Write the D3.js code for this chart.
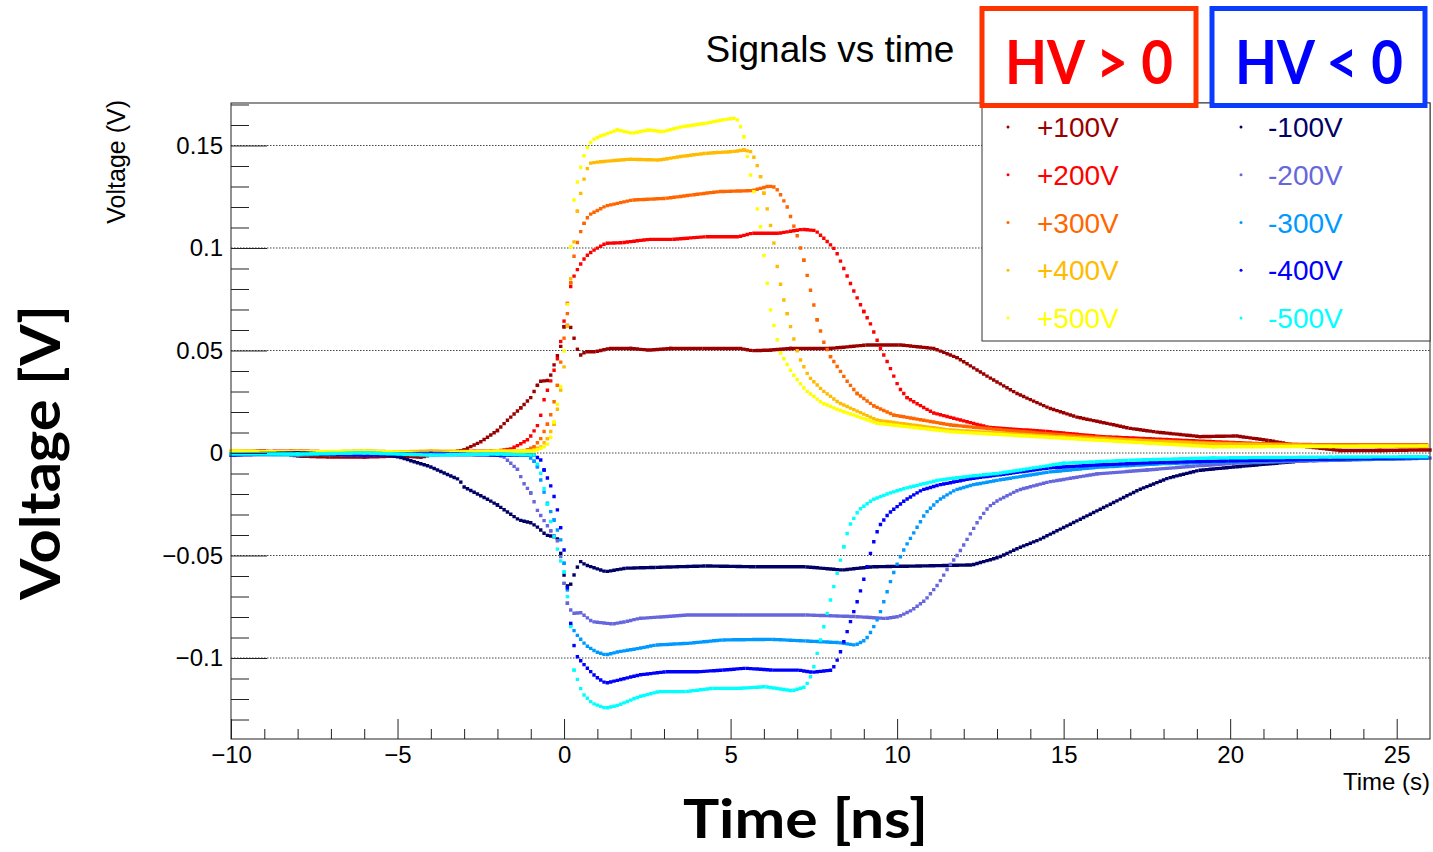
<!DOCTYPE html>
<html>
<head>
<meta charset="utf-8">
<script src="https://cdn.jsdelivr.net/npm/d3@7"></script>
<style>
    body { margin: 0; background: #fff; }
    svg { display: block; }
</style>
</head>
<body>
<div id="chart"></div>
<script>
// [time (ns), voltage (V)]
let pos100 = [[-10,0.0005],[-9,0.001],[-8.5,0.0],[-8,-0.0015],[-7,-0.002],[-6,-0.002],[-5,-0.0015],[-4.3,-0.002],[-3.8,-0.0005],[-3.3,0.0005],[-3.0,0.0015],[-2.5,0.0055],[-2.0,0.011],[-1.7,0.016],[-1.3,0.022],[-1.0,0.027],[-0.8,0.033],[-0.7,0.035],[-0.45,0.0355],[-0.3,0.043],[-0.1,0.052],[0,0.0616],[0.15,0.0625],[0.25,0.06],[0.35,0.052],[0.5,0.0478],[0.65,0.0494],[0.95,0.0494],[1.35,0.051],[2.0,0.051],[2.55,0.0502],[3.2,0.051],[4.2,0.051],[5.3,0.051],[5.65,0.0499],[6.2,0.0502],[6.8,0.051],[8.0,0.051],[9.1,0.0527],[10.1,0.0527],[11.1,0.051],[11.8,0.0465],[12.75,0.037],[13.6,0.029],[14.55,0.022],[15.4,0.0175],[16.2,0.0148],[17.0,0.012],[17.8,0.0102],[19.1,0.008],[20.2,0.0083],[21.2,0.006],[22.1,0.0034],[23.3,0.0012],[24.5,0.0012],[26,0.0015]];
let pos200 = [[-10,0.0005],[-8,0.001],[-6,0.0],[-4,0.0005],[-2,0.001],[-1.6,0.002],[-1.35,0.004],[-1.05,0.007],[-0.75,0.0146],[-0.6,0.026],[-0.36,0.037],[-0.15,0.0488],[-0.05,0.06],[0.1,0.073],[0.24,0.0844],[0.45,0.091],[0.65,0.0958],[0.85,0.0985],[1.25,0.1023],[1.75,0.1026],[2.55,0.1042],[3.25,0.1042],[4.25,0.1055],[5.25,0.1055],[5.65,0.1072],[6.45,0.1072],[6.75,0.108],[7.15,0.1091],[7.55,0.1085],[7.85,0.104],[8.15,0.099],[8.4,0.09],[8.7,0.079],[9.0,0.069],[9.2,0.063],[9.5,0.051],[9.75,0.043],[10.05,0.032],[10.3,0.027],[10.6,0.024],[11.1,0.0195],[12.75,0.0125],[14.5,0.0105],[16.15,0.008],[17.5,0.007],[19.5,0.0055],[21,0.0045],[22.9,0.0034],[26,0.003]];
let pos300 = [[-10,0.001],[-8,0.0],[-6,0.001],[-4,0.0],[-2,0.0005],[-1.2,0.001],[-0.9,0.003],[-0.7,0.007],[-0.5,0.014],[-0.35,0.021],[-0.2,0.033],[-0.05,0.05],[0.1,0.068],[0.2,0.083],[0.3,0.096],[0.45,0.106],[0.6,0.112],[0.75,0.1161],[1.25,0.1205],[2.05,0.1234],[3.05,0.1242],[3.85,0.1259],[4.65,0.1275],[5.65,0.128],[6.15,0.1302],[6.35,0.1296],[6.5,0.126],[6.7,0.12],[6.85,0.113],[7.0,0.106],[7.2,0.094],[7.35,0.083],[7.6,0.065],[7.8,0.054],[8.0,0.047],[8.25,0.041],[8.5,0.035],[8.8,0.029],[9.3,0.023],[9.9,0.0185],[11.6,0.0137],[13.3,0.011],[15,0.0088],[17,0.0065],[19.5,0.0049],[22.9,0.004],[26,0.004]];
let pos400 = [[-10,0.0],[-8,0.001],[-6,0.0],[-4,0.001],[-2,0.0005],[-1.0,0.001],[-0.7,0.003],[-0.5,0.007],[-0.3,0.014],[-0.15,0.025],[0,0.042],[0.1,0.062],[0.2,0.085],[0.3,0.103],[0.4,0.118],[0.55,0.131],[0.75,0.1413],[1.05,0.142],[1.95,0.1433],[2.85,0.1429],[3.45,0.1445],[4.25,0.1462],[5.05,0.147],[5.4,0.1478],[5.6,0.147],[5.75,0.1429],[5.9,0.1348],[6.0,0.1267],[6.15,0.1153],[6.3,0.1024],[6.4,0.091],[6.55,0.078],[6.7,0.068],[6.85,0.0585],[7.05,0.047],[7.35,0.0372],[7.75,0.0307],[8.25,0.0245],[9.4,0.016],[11.6,0.0112],[15,0.0078],[19.5,0.0045],[23,0.0035],[26,0.0035]];
let pos500 = [[-10,0.001],[-8,0.0005],[-6,0.001],[-4,0.0],[-2,0.001],[-0.9,0.001],[-0.6,0.003],[-0.45,0.005],[-0.36,0.0098],[-0.3,0.0151],[-0.1,0.0323],[0.05,0.0585],[0.2,0.1006],[0.3,0.1234],[0.45,0.1366],[0.65,0.1478],[0.85,0.1527],[1.05,0.1543],[1.6,0.1576],[2.05,0.156],[2.55,0.1576],[2.95,0.1567],[3.55,0.1592],[4.25,0.1608],[4.85,0.1628],[5.15,0.1633],[5.25,0.1616],[5.4,0.1543],[5.55,0.1397],[5.75,0.1234],[5.9,0.1104],[6.05,0.0893],[6.2,0.0698],[6.35,0.0585],[6.5,0.0488],[6.85,0.039],[7.25,0.0307],[7.75,0.0244],[8.25,0.021],[9.4,0.0145],[11.6,0.0104],[15,0.0072],[19.5,0.003],[23,0.0032],[26,0.0034]];

let neg100 = [[-10,-0.0005],[-8,0.0],[-6.5,-0.001],[-5.3,-0.001],[-4.95,-0.002],[-4.05,-0.0065],[-3.15,-0.013],[-3.0,-0.0166],[-2.25,-0.023],[-2.0,-0.0254],[-1.35,-0.0327],[-1.0,-0.034],[-0.75,-0.0367],[-0.55,-0.04],[-0.3,-0.0408],[-0.15,-0.0424],[-0.05,-0.0555],[0.05,-0.0636],[0.15,-0.066],[0.25,-0.062],[0.35,-0.057],[0.5,-0.053],[0.65,-0.0546],[1.25,-0.0579],[1.85,-0.0562],[2.75,-0.0558],[4.25,-0.0551],[5.75,-0.0555],[7.25,-0.0555],[8.35,-0.0571],[9.25,-0.0555],[10.75,-0.0551],[12.25,-0.0546],[13.05,-0.0509],[13.65,-0.0463],[14.25,-0.0424],[15.45,-0.0327],[16.35,-0.0254],[17.25,-0.018],[18.15,-0.0122],[19.05,-0.0085],[20.2,-0.0067],[22.35,-0.0036],[24,-0.003],[26,-0.0025]];
let neg200 = [[-10,-0.001],[-8,-0.0005],[-6,-0.001],[-4,0.0],[-2,-0.001],[-1.8,-0.002],[-1.4,-0.008],[-1.2,-0.015],[-1.0,-0.0195],[-0.8,-0.028],[-0.6,-0.033],[-0.4,-0.038],[-0.15,-0.044],[0,-0.0636],[0.1,-0.0733],[0.25,-0.0782],[0.5,-0.0779],[0.85,-0.0823],[1.45,-0.0834],[1.85,-0.0823],[2.25,-0.0807],[3.75,-0.079],[5.25,-0.079],[7.25,-0.079],[8.75,-0.0798],[9.65,-0.0807],[10.05,-0.0798],[10.45,-0.0766],[10.85,-0.0717],[11.25,-0.0636],[11.55,-0.0555],[11.85,-0.0489],[12.15,-0.0408],[12.45,-0.0327],[12.75,-0.0262],[13.05,-0.0229],[13.65,-0.018],[14.55,-0.0141],[16,-0.0102],[17.5,-0.0083],[19,-0.0063],[20.1,-0.005],[22.5,-0.0038],[26,-0.0025]];
let neg300 = [[-10,-0.0005],[-8,-0.001],[-6,0.0],[-4,-0.001],[-2,-0.0005],[-1.1,-0.001],[-0.9,-0.004],[-0.8,-0.0067],[-0.65,-0.0164],[-0.5,-0.0245],[-0.3,-0.0327],[-0.1,-0.0424],[0,-0.0538],[0.1,-0.0668],[0.2,-0.0839],[0.35,-0.088],[0.65,-0.0937],[0.95,-0.0969],[1.25,-0.0985],[1.65,-0.0969],[2.25,-0.0953],[2.75,-0.0937],[3.75,-0.0928],[4.75,-0.0912],[6.25,-0.0909],[7.25,-0.0917],[8.25,-0.0925],[8.75,-0.0937],[9.05,-0.0912],[9.25,-0.0863],[9.45,-0.0798],[9.65,-0.0701],[9.85,-0.0603],[10.05,-0.0522],[10.25,-0.0457],[10.55,-0.0376],[10.85,-0.0294],[11.25,-0.0229],[11.75,-0.018],[12.25,-0.0156],[13.05,-0.0132],[14.55,-0.0093],[16,-0.007],[18,-0.0052],[20,-0.0042],[23,-0.0033],[26,-0.0024]];
let neg400 = [[-10,-0.001],[-8,0.0],[-6,-0.001],[-4,-0.0005],[-2,-0.001],[-0.9,-0.001],[-0.7,-0.0034],[-0.6,-0.0083],[-0.35,-0.018],[-0.15,-0.031],[0,-0.0473],[0.15,-0.075],[0.25,-0.0912],[0.4,-0.0994],[0.65,-0.1042],[0.95,-0.1091],[1.25,-0.1123],[1.65,-0.1107],[2.25,-0.1083],[3.05,-0.1067],[4.05,-0.1067],[4.75,-0.1059],[5.45,-0.105],[6.25,-0.1059],[7.05,-0.1059],[7.45,-0.107],[8.05,-0.1059],[8.25,-0.0994],[8.45,-0.0896],[8.65,-0.0798],[8.85,-0.0701],[9.05,-0.0587],[9.25,-0.0457],[9.45,-0.036],[9.75,-0.0294],[10.25,-0.0229],[10.75,-0.018],[11.25,-0.0156],[12.25,-0.0124],[13.05,-0.0107],[14.55,-0.0073],[16,-0.0058],[18,-0.0045],[20,-0.0038],[23,-0.003],[26,-0.0022]];
let neg500 = [[-10,-0.0005],[-8,-0.0005],[-6,0.0],[-4,-0.001],[-2,-0.0005],[-0.9,-0.001],[-0.7,-0.0099],[-0.5,-0.025],[-0.35,-0.0376],[-0.15,-0.05],[0,-0.058],[0.1,-0.0701],[0.2,-0.0847],[0.3,-0.1059],[0.55,-0.1172],[0.85,-0.1221],[1.25,-0.1245],[1.65,-0.1229],[2.25,-0.1189],[2.85,-0.1164],[3.65,-0.1164],[4.45,-0.1148],[5.25,-0.1148],[6.05,-0.114],[6.85,-0.116],[7.25,-0.114],[7.45,-0.1075],[7.65,-0.0945],[7.85,-0.0815],[8.05,-0.0684],[8.25,-0.0555],[8.4,-0.0457],[8.55,-0.036],[8.85,-0.0278],[9.25,-0.0229],[9.75,-0.0197],[10.25,-0.0172],[11.25,-0.0132],[12.25,-0.0112],[13.05,-0.0099],[15,-0.005],[17,-0.0035],[19.5,-0.0024],[23,-0.002],[26,-0.0018]];

let posLabels = ["+100V", "+200V", "+300V", "+400V", "+500V"];
let negLabels = ["-100V", "-200V", "-300V", "-400V", "-500V"];
let posColors = ["#990000", "#ff0000", "#ff6600", "#ffbb00", "#ffff00"];
let negColors = ["#000066", "#6666dd", "#0099ff", "#0000ff", "#00ffff"];

let xTicks = [-10, -5, 0, 5, 10, 15, 20, 25];
let xTickLabels = ["\u221210", "\u22125", "0", "5", "10", "15", "20", "25"];
let yTicks = [-0.1, -0.05, 0, 0.05, 0.1, 0.15];
let yTickLabels = ["\u22120.1", "\u22120.05", "0", "0.05", "0.1", "0.15"];

let seriesData = [pos100, pos200, pos300, pos400, pos500, neg100, neg200, neg300, neg400, neg500];
let seriesColors = posColors.concat(negColors);

let W = 1433, H = 852;
let frame = {left: 231, right: 1430, top: 103, bottom: 739};
let font = "'Liberation Sans', Arial, sans-serif";
let bold = "Lato, 'Open Sans', sans-serif";
let step = 0.1;   // scope sampling, ns

let svg = d3.select("#chart").append("svg")
    .attr("width", W)
    .attr("height", H);

let x = d3.scaleLinear().domain([-10, 26]).range([frame.left, frame.right]);
let y = d3.scaleLinear().domain([-0.13951, 0.17073]).range([frame.bottom, frame.top]);

// horizontal dotted grid
svg.append("g")
    .selectAll("line")
    .data(yTicks)
    .join("line")
    .attr("x1", frame.left).attr("x2", frame.right)
    .attr("y1", d => y(d)).attr("y2", d => y(d))
    .attr("stroke", "#444")
    .attr("stroke-width", 1)
    .attr("stroke-dasharray", "1.5 1.5");

// every trace is drawn as scope samples: one square marker each 0.1 ns along each segment
let plot = svg.append("g");
seriesData.forEach(function (pts, i) {
    plot.append("g")
        .attr("stroke", seriesColors[i])
        .attr("stroke-width", 3.4)
        .attr("stroke-linecap", "square")
        .selectAll("line")
        .data(d3.pairs(pts))
        .join("line")
        .attr("x1", d => x(d[0][0]))
        .attr("y1", d => y(d[0][1]))
        .attr("x2", d => x(d[1][0]))
        .attr("y2", d => y(d[1][1]))
        .each(function (d) {
            let len = Math.hypot(x(d[1][0]) - x(d[0][0]), y(d[1][1]) - y(d[0][1]));
            let n = (d[1][0] - d[0][0]) / step;
            let sp = len / n;
            let t0 = Math.ceil(d[0][0] / step - 1e-6) * step;
            let delta = (t0 - d[0][0]) / (d[1][0] - d[0][0]) * len;
            d3.select(this)
                .attr("stroke-dasharray", "0 " + sp)
                .attr("stroke-dashoffset", sp - delta);
        });
});

// axes, ROOT style: ticks inside the frame
svg.append("g")
    .attr("transform", "translate(0," + frame.bottom + ")")
    .call(d3.axisBottom(x).tickValues(xTicks)
        .tickFormat((d, i) => xTickLabels[i])
        .tickSizeInner(-20).tickSizeOuter(0).tickPadding(7));
svg.append("g")
    .attr("transform", "translate(0," + frame.bottom + ")")
    .call(d3.axisBottom(x).tickValues(d3.range(-9, 26).filter(d => d % 5 !== 0))
        .tickFormat("").tickSizeInner(-10).tickSizeOuter(0));

svg.append("g")
    .attr("transform", "translate(" + frame.left + ",0)")
    .call(d3.axisLeft(y).tickValues(yTicks)
        .tickFormat((d, i) => yTickLabels[i])
        .tickSizeInner(-36).tickSizeOuter(0).tickPadding(8));
svg.append("g")
    .attr("transform", "translate(" + frame.left + ",0)")
    .call(d3.axisLeft(y).tickValues(d3.range(-13, 18).filter(d => d % 5 !== 0).map(d => d / 100))
        .tickFormat("").tickSizeInner(-18).tickSizeOuter(0));

svg.selectAll(".domain").remove();
svg.selectAll(".tick line").attr("stroke", "#222");
svg.selectAll(".tick text")
    .style("font-family", font)
    .style("font-size", "24px")
    .attr("fill", "#000");

svg.append("rect")
    .attr("x", frame.left).attr("y", frame.top)
    .attr("width", frame.right - frame.left)
    .attr("height", frame.bottom - frame.top)
    .attr("fill", "none")
    .attr("stroke", "#222")
    .attr("stroke-width", 1);

// titles
svg.append("text")
    .attr("x", 830).attr("y", 62)
    .attr("text-anchor", "middle")
    .style("font-family", font).style("font-size", "37px")
    .text("Signals vs time");

svg.append("text")
    .attr("transform", "translate(125,100) rotate(-90)")
    .attr("text-anchor", "end")
    .style("font-family", font).style("font-size", "25px")
    .text("Voltage (V)");

svg.append("text")
    .attr("x", 1430).attr("y", 790)
    .attr("text-anchor", "end")
    .style("font-family", font).style("font-size", "24px")
    .text("Time (s)");

svg.append("text")
    .attr("transform", "translate(60,600) rotate(-90)")
    .attr("textLength", 295).attr("lengthAdjust", "spacingAndGlyphs")
    .style("font-family", bold).style("font-weight", 700).style("font-size", "56px")
    .text("Voltage [V]");

svg.append("text")
    .attr("x", 683).attr("y", 838)
    .attr("textLength", 245).attr("lengthAdjust", "spacingAndGlyphs")
    .style("font-family", bold).style("font-weight", 700).style("font-size", "53px")
    .text("Time [ns]");

// legend
let legend = svg.append("g");
legend.append("rect")
    .attr("x", 982).attr("y", frame.top)
    .attr("width", frame.right - 982).attr("height", 341 - frame.top)
    .attr("fill", "#fff")
    .attr("stroke", "#333")
    .attr("stroke-width", 1);

let rowY = d3.scaleLinear().domain([0, 4]).range([127, 318]);
[[posLabels, posColors, 1008, 1037], [negLabels, negColors, 1241, 1268]].forEach(function (col) {
    let rows = legend.append("g")
        .selectAll("g")
        .data(col[0])
        .join("g")
        .attr("transform", (d, i) => "translate(0," + rowY(i) + ")");
    rows.append("circle")
        .attr("cx", col[2]).attr("cy", 0).attr("r", 1.5)
        .attr("fill", (d, i) => col[1][i]);
    rows.append("text")
        .attr("x", col[3]).attr("y", 10)
        .style("font-family", font).style("font-size", "28px")
        .attr("fill", (d, i) => col[1][i])
        .text(d => d);
});

// HV polarity boxes
let boxes = [
    {x: 982, w: 214, stroke: "#ff3300", fill: "#ff0000", text: "HV > 0"},
    {x: 1212, w: 213, stroke: "#0a3cff", fill: "#0000ff", text: "HV < 0"}
];
let hv = svg.append("g").selectAll("g").data(boxes).join("g");
hv.append("rect")
    .attr("x", d => d.x).attr("y", 8.5)
    .attr("width", d => d.w).attr("height", 97)
    .attr("fill", "#fff")
    .attr("stroke", d => d.stroke)
    .attr("stroke-width", 5);
hv.append("text")
    .attr("x", d => d.x + 23).attr("y", 84)
    .attr("textLength", 168).attr("lengthAdjust", "spacingAndGlyphs")
    .style("font-family", bold).style("font-weight", 700).style("font-size", "61px")
    .attr("fill", d => d.fill)
    .text(d => d.text);
</script>
</body>
</html>
